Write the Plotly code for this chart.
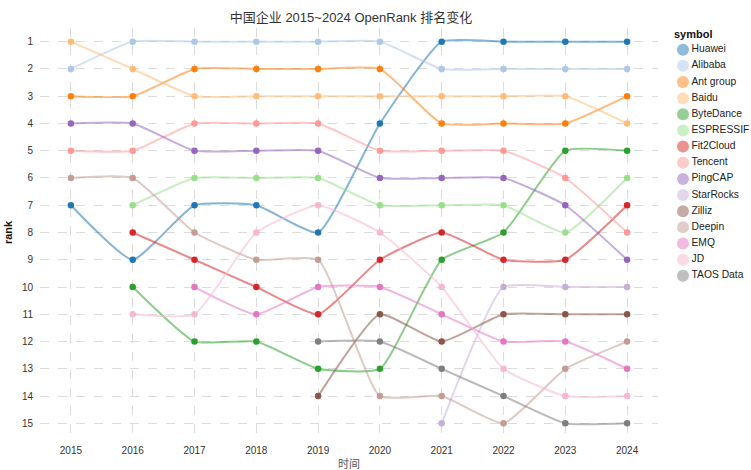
import plotly.graph_objects as go

years = [2015, 2016, 2017, 2018, 2019, 2020, 2021, 2022, 2023, 2024]

names = ["Huawei", "Alibaba", "Ant group", "Baidu", "ByteDance", "ESPRESSIF", "Fit2Cloud",
         "Tencent", "PingCAP", "StarRocks", "Zilliz", "Deepin", "EMQ", "JD", "TAOS Data"]

colors = ["#1f77b4", "#aec7e8", "#ff7f0e", "#ffbb78", "#2ca02c", "#98df8a", "#d62728",
          "#ff9896", "#9467bd", "#c5b0d5", "#8c564b", "#c49c94", "#e377c2", "#f7b6d2", "#7f7f7f"]

N = None
huawei = [7, 9, 7, 7, 8, 4, 1, 1, 1, 1]
alibaba = [2, 1, 1, 1, 1, 1, 2, 2, 2, 2]
ant_group = [3, 3, 2, 2, 2, 2, 4, 4, 4, 3]
baidu = [1, 2, 3, 3, 3, 3, 3, 3, 3, 4]
bytedance = [N, 10, 12, 12, 13, 13, 9, 8, 5, 5]
espressif = [N, 7, 6, 6, 6, 7, 7, 7, 8, 6]
fit2cloud = [N, 8, 9, 10, 11, 9, 8, 9, 9, 7]
tencent = [5, 5, 4, 4, 4, 5, 5, 5, 6, 8]
pingcap = [4, 4, 5, 5, 5, 6, 6, 6, 7, 9]
starrocks = [N, N, N, N, N, N, 15, 10, 10, 10]
zilliz = [N, N, N, N, 14, 11, 12, 11, 11, 11]
deepin = [6, 6, 8, 9, 9, 14, 14, 15, 13, 12]
emq = [N, N, 10, 11, 10, 10, 11, 12, 12, 13]
jd = [N, 11, 11, 8, 7, 8, 10, 13, 14, 14]
taos_data = [N, N, N, N, 12, 12, 13, 14, 15, 15]

series = [huawei, alibaba, ant_group, baidu, bytedance, espressif, fit2cloud, tencent,
          pingcap, starrocks, zilliz, deepin, emq, jd, taos_data]

rank_ticks = list(range(1, 16))

FONT = "Liberation Sans, Arial, Noto Sans CJK SC, sans-serif"


def rgba(hex_color, a):
    h = hex_color.lstrip("#")
    r, g, b = int(h[0:2], 16), int(h[2:4], 16), int(h[4:6], 16)
    return f"rgba({r},{g},{b},{a})"


fig = go.Figure()

# lines (semi-transparent, smoothed)
for name, col, vals in zip(names, colors, series):
    xs = [y for y, v in zip(years, vals) if v is not None]
    ys = [v for v in vals if v is not None]
    fig.add_trace(go.Scatter(
        x=xs, y=ys, mode="lines", name=name, showlegend=False,
        line=dict(color=rgba(col, 0.55), width=2, shape="spline", smoothing=0.45),
        hoverinfo="skip"))

# points
for name, col, vals in zip(names, colors, series):
    xs = [y for y, v in zip(years, vals) if v is not None]
    ys = [v for v in vals if v is not None]
    fig.add_trace(go.Scatter(
        x=xs, y=ys, mode="markers", name=name, showlegend=False,
        marker=dict(color=col, size=6.5),
        hovertemplate=name + "<br>%{x}: %{y}<extra></extra>"))

# legend drawn on its own small axis pair (compact spacing like the original)
legend_idx = list(range(len(names)))
fig.add_trace(go.Scatter(
    x=[6] * len(names), y=legend_idx, xaxis="x2", yaxis="y2",
    mode="markers+text", text=names, textposition="middle right",
    textfont=dict(family=FONT, size=10.3, color="#222"),
    marker=dict(color=[rgba(c, 0.5) for c in colors], size=12),
    showlegend=False, hoverinfo="skip", cliponaxis=False))

fig.update_layout(
    width=751, height=470,
    paper_bgcolor="white", plot_bgcolor="white",
    margin=dict(l=40, r=0, t=28, b=33, autoexpand=False),
    font=dict(family=FONT, size=10, color="#333"),
    showlegend=False,
    title=dict(text="中国企业 2015~2024 OpenRank 排名变化", x=351 / 751, xanchor="center",
               y=1 - 17 / 470, yanchor="middle",
               font=dict(family=FONT, size=13, color="#333")),
    xaxis=dict(
        domain=[0, 618 / 711],
        range=[2014.5, 2024.5], tickvals=years, ticktext=[str(y) for y in years],
        showgrid=True, gridcolor="#dcdcdc", griddash="dash", gridwidth=1,
        zeroline=False, showline=False, ticks="", ticklabelstandoff=6,
        tickfont=dict(size=10, color="#333"),
        title=dict(text="时间", font=dict(size=11, color="#555"), standoff=5),
    ),
    yaxis=dict(
        range=[15.5, 0.5], tickvals=rank_ticks, ticktext=[str(r) for r in rank_ticks],
        showgrid=True, gridcolor="#dcdcdc", griddash="dash", gridwidth=1,
        zeroline=False, showline=False, ticks="", ticklabelstandoff=6,
        tickfont=dict(size=10, color="#333"),
        title=dict(text="<b>rank</b>", font=dict(size=11, color="#111"), standoff=7),
    ),
    xaxis2=dict(domain=[(677 - 40) / 711, 1], range=[0, 74], visible=False, fixedrange=True),
    yaxis2=dict(domain=[0, 1], range=[(437 - 49.7) / 16.15, -21.7 / 16.15],
                visible=False, fixedrange=True, anchor="x2"),
    annotations=[dict(
        text="<b>symbol</b>", xref="paper", yref="paper",
        x=(672 - 40) / 711, xanchor="left", y=(437 - 34) / 409, yanchor="middle",
        showarrow=False, font=dict(family=FONT, size=11, color="#111"))],
)

fig.write_html("out.html", config={"displayModeBar": False},
               post_script="document.body.style.margin='0px';document.body.style.overflow='hidden';")
